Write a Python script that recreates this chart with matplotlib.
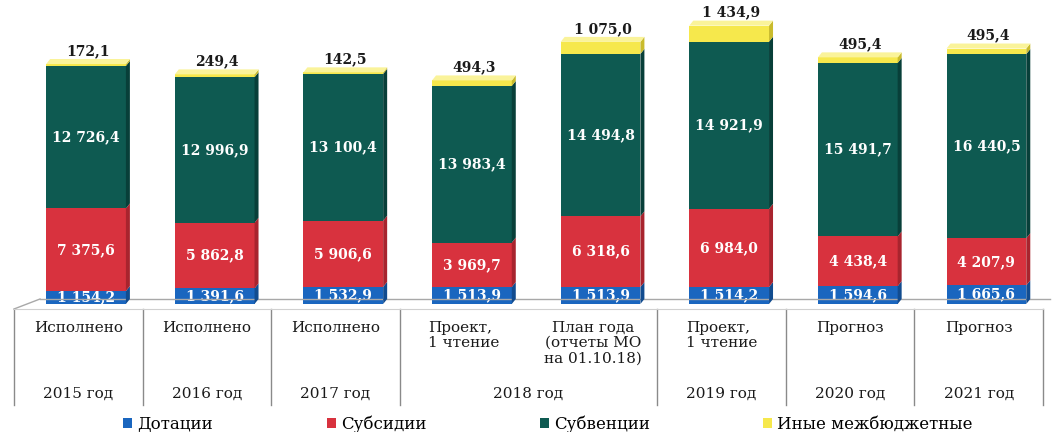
import matplotlib
matplotlib.use("Agg")
import matplotlib.pyplot as plt
from matplotlib.patches import Polygon
from matplotlib.transforms import IdentityTransform, blended_transform_factory
import numpy as np

# ---------------- data ----------------
categories = ["Исполнено", "Исполнено", "Исполнено", "Проект,\n1 чтение",
              "План года\n(отчеты МО\nна 01.10.18)", "Проект,\n1 чтение",
              "Прогноз", "Прогноз"]
cat_align = ["center", "center", "center", "left", "center", "left", "center", "center"]
years = ["2015 год", "2016 год", "2017 год", "2018 год", "2019 год", "2020 год", "2021 год"]
year_span = [1, 1, 1, 2, 1, 1, 1]

dotacii = [1154.2, 1391.6, 1532.9, 1513.9, 1513.9, 1514.2, 1594.6, 1665.6]
subsidii = [7375.6, 5862.8, 5906.6, 3969.7, 6318.6, 6984.0, 4438.4, 4207.9]
subvencii = [12726.4, 12996.9, 13100.4, 13983.4, 14494.8, 14921.9, 15491.7, 16440.5]
inye = [172.1, 249.4, 142.5, 494.3, 1075.0, 1434.9, 495.4, 495.4]

series_names = ["Дотации", "Субсидии", "Субвенции", "Иные межбюджетные"]
colors = ["#1a66bf", "#d8323e", "#0e5a51", "#f6e84c"]
side_colors = ["#124c8f", "#a8242e", "#083f39", "#c9bb2c"]
top_colors = ["#4d8ad4", "#e8646d", "#2f7a70", "#faf39a"]
label_colors = ["white", "white", "white", "#1a1a1a"]

W, H = 1055, 432
plt.rcParams["font.family"] = ["DejaVu Serif"]

fig = plt.figure(figsize=(W / 100, H / 100), dpi=100)
base_px = 304
ax = fig.add_axes([14 / W, (H - base_px) / H, (1043 - 14) / W, base_px / H])
ax.set_xlim(-0.56, 7.44)
ax.set_ylim(0, base_px / 0.0112)
ax.axis("off")

x = np.arange(len(categories))
bw = 0.62
series = [dotacii, subsidii, subvencii, inye]

def fmt(v):
    return f"{v:,.1f}".replace(",", " ").replace(".", ",")

def fy(py):
    return 1 - py / H

dx, dy = 4, 5
bottom = np.zeros(len(x))
handles = []
for k, vals in enumerate(series):
    vals = np.array(vals)
    bars = ax.bar(x, vals, bw, bottom=bottom, color=colors[k], zorder=3,
                  label=series_names[k], linewidth=0)
    handles.append(bars)
    # side faces
    for i in range(len(x)):
        p0 = ax.transData.transform((x[i] + bw / 2, bottom[i]))
        p1 = ax.transData.transform((x[i] + bw / 2, bottom[i] + vals[i]))
        poly = Polygon([(p0[0], p0[1]), (p0[0] + dx, p0[1] + dy),
                        (p1[0] + dx, p1[1] + dy), (p1[0], p1[1])],
                       closed=True, transform=IdentityTransform(),
                       facecolor=side_colors[k], edgecolor="none", zorder=2)
        fig.add_artist(poly)
    # labels
    for i in range(len(x)):
        if k < 3:
            ax.text(x[i], bottom[i] + vals[i] / 2, fmt(vals[i]), ha="center", va="center",
                    color=label_colors[k], fontsize=10, fontweight="bold", zorder=5)
    bottom = bottom + vals

# top faces and top labels
for i in range(len(x)):
    pl = ax.transData.transform((x[i] - bw / 2, bottom[i]))
    pr = ax.transData.transform((x[i] + bw / 2, bottom[i]))
    poly = Polygon([(pl[0], pl[1]), (pr[0], pr[1]), (pr[0] + dx, pr[1] + dy),
                    (pl[0] + dx, pl[1] + dy)], closed=True, transform=IdentityTransform(),
                   facecolor=top_colors[3], edgecolor="none", zorder=4)
    fig.add_artist(poly)
    ax.annotate(fmt(inye[i]), (x[i], bottom[i]), xytext=(dx / 2, dy + 1),
                textcoords="offset pixels", ha="center", va="bottom",
                fontsize=10, fontweight="bold", color="#1a1a1a", zorder=6,
                annotation_clip=False)

# floor
gray = "#a8a8a8"
back_y = base_px - dy
front_y = base_px + 5
fig.add_artist(plt.Line2D([14 / W, 40 / W], [fy(front_y), fy(back_y)], color=gray, lw=1, zorder=1))
fig.add_artist(plt.Line2D([40 / W, 1050 / W], [fy(back_y), fy(back_y)], color=gray, lw=1, zorder=1))
fig.add_artist(plt.Line2D([14 / W, 1043 / W], [fy(front_y), fy(front_y)], color="#d0d0d0", lw=0.8, zorder=1))

# table
tr = blended_transform_factory(ax.transData, fig.transFigure)
bounds = [-0.56 + i for i in range(9)]
line_idx = [0, 1, 2, 3, 5, 6, 7, 8]
for j in line_idx:
    ax.plot([bounds[j], bounds[j]], [fy(front_y), fy(405)], transform=tr, color="#8a8a8a",
            lw=1, clip_on=False, zorder=1)

cell_c = [(bounds[i] + bounds[i + 1]) / 2 for i in range(8)]
for i, lab in enumerate(categories):
    xx = cell_c[i]
    ax.text(xx, fy(321), lab, transform=tr, ha="center", va="top", ma=cat_align[i],
            fontsize=11, linespacing=1.1, color="#1a1a1a")

pos = 0
for yl, span in zip(years, year_span):
    xx = np.mean(cell_c[pos:pos + span])
    ax.text(xx, fy(394), yl, transform=tr, ha="center", va="center",
            fontsize=11, color="#1a1a1a")
    pos += span

fig.legend(handles=handles, labels=series_names, loc="center", ncol=4,
           bbox_to_anchor=(548 / W, fy(424)), frameon=False, fontsize=12,
           handlelength=0.55, handleheight=0.55, handletextpad=0.3,
           columnspacing=6.8, borderpad=0)

fig.savefig("out.png", dpi=100)
